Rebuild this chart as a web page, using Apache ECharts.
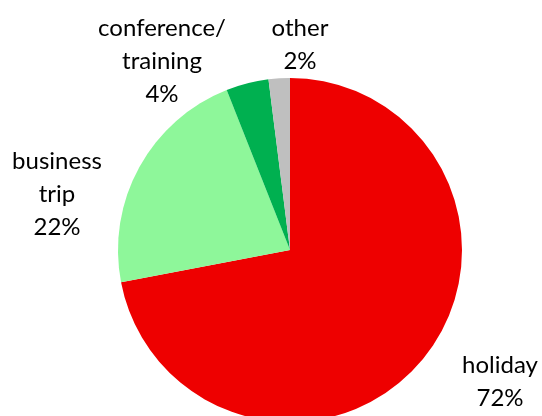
<!DOCTYPE html>
<html>
<head>
<meta charset="utf-8">
<script src="https://cdn.jsdelivr.net/npm/echarts@6/dist/echarts.min.js"></script>
<style>
  html, body { margin: 0; padding: 0; background: #fff; }
  #chart { width: 542px; height: 416px; }
</style>
</head>
<body>
<div id="chart"></div>
<script>
// slices, clockwise from 12 o'clock
const categories = ['holiday', 'business\ntrip', 'conference/\ntraining', 'other']
const shares = [72, 22, 4, 2]
const colors = ['#EE0000', '#8EF79A', '#00B050', '#BFBFBF']

// label anchor points (centre of each text block)
const labelPos = [
  { x: 500, y: 382 },
  { x: 57, y: 194 },
  { x: 162, y: 61 },
  { x: 300, y: 45 }
]

const chart = echarts.init(document.getElementById('chart'))

chart.setOption({
  animation: false,
  series: [{
    type: 'pie',
    center: [290, 250],
    radius: 172,
    startAngle: 90,
    clockwise: true,
    data: categories.map((name, i) => ({
      name,
      value: shares[i],
      itemStyle: { color: colors[i] }
    })),
    itemStyle: { borderWidth: 0 },
    label: {
      show: true,
      position: 'outside',
      formatter: '{b}\n{c}%',
      color: '#000',
      fontFamily: 'Lato',
      fontSize: 24,
      lineHeight: 33,
      align: 'center',
      overflow: 'none'
    },
    labelLine: { show: false },
    labelLayout: params => ({
      x: labelPos[params.dataIndex].x,
      y: labelPos[params.dataIndex].y,
      align: 'center',
      verticalAlign: 'middle'
    }),
    emphasis: { disabled: true }
  }]
})
</script>
</body>
</html>
